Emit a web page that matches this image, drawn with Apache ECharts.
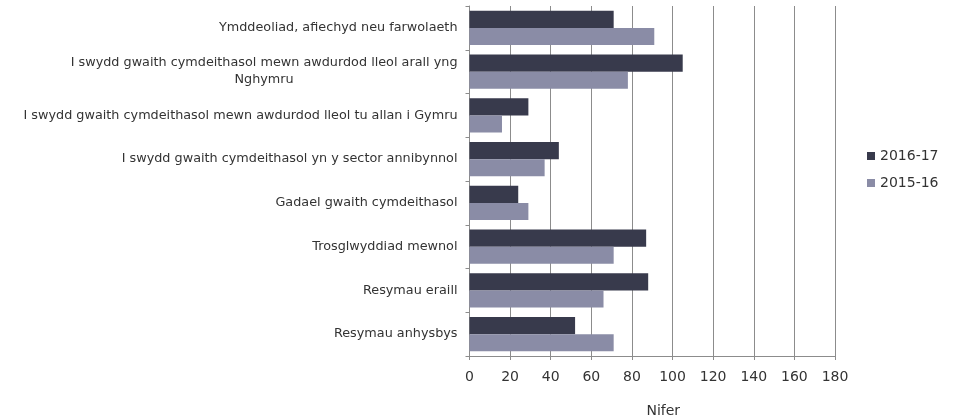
<!DOCTYPE html>
<html><head><meta charset="utf-8">
<script src="https://cdn.jsdelivr.net/npm/echarts@6/dist/echarts.min.js"></script>
<style>html,body{margin:0;padding:0;background:#fff}#c{width:960px;height:417px}</style>
</head><body><div id="c"></div>
<script>
var categories = [
  "Ymddeoliad, afiechyd neu farwolaeth",
  "I swydd gwaith cymdeithasol mewn awdurdod lleol arall yng\nNghymru",
  "I swydd gwaith cymdeithasol mewn awdurdod lleol tu allan i Gymru",
  "I swydd gwaith cymdeithasol yn y sector annibynnol",
  "Gadael gwaith cymdeithasol",
  "Trosglwyddiad mewnol",
  "Resymau eraill",
  "Resymau anhysbys"
];
var seriesNames = ["2016-17", "2015-16"];
var values2016 = [71, 105, 29, 44, 24, 87, 88, 52];
var values2015 = [91, 78, 16, 37, 29, 71, 66, 71];
var xTicks = {min: 0, max: 180, interval: 20};
var axisName = "Nifer";

var chart = echarts.init(document.getElementById('c'));
var font = 'DejaVu Sans, Verdana, sans-serif';
chart.setOption({
  animation: false,
  textStyle: {fontFamily: font},
  grid: {left: 469.5, right: 125, top: 6, bottom: 61, containLabel: false, outerBoundsMode: 'none'},
  legend: {
    orient: 'vertical', left: 867, top: 149, padding: 0, itemWidth: 8, itemHeight: 8, itemGap: 13,
    icon: 'rect',
    textStyle: {fontFamily: font, fontSize: 14, color: '#333'},
    data: seriesNames
  },
  xAxis: {
    type: 'value', min: xTicks.min, max: xTicks.max, interval: xTicks.interval,
    name: axisName, nameLocation: 'middle', nameGap: 48,
    nameTextStyle: {fontFamily: font, fontSize: 14, color: '#333', padding: [0, 0, 0, 22]},
    axisLine: {show: true, lineStyle: {color: '#8c8c8c', width: 1}},
    axisTick: {show: true, length: 4, lineStyle: {color: '#8c8c8c'}},
    axisLabel: {fontFamily: font, fontSize: 14, color: '#333', margin: 14},
    splitLine: {show: true, lineStyle: {color: '#8c8c8c', width: 1}}
  },
  yAxis: {
    type: 'category', data: categories, inverse: true,
    axisLine: {show: true, lineStyle: {color: '#8c8c8c', width: 1}},
    axisTick: {show: true, length: 4, lineStyle: {color: '#8c8c8c'}},
    axisLabel: {
      fontFamily: font, fontSize: 12.8, color: '#333', margin: 12,
      formatter: function (v) {
        return v.split('\n').map(function (s) { return '{a|' + s + '}'; }).join('\n');
      },
      rich: {a: {fontFamily: font, fontSize: 12.8, color: '#333', align: 'center', lineHeight: 17}}
    }
  },
  series: [
    {name: seriesNames[0], type: 'bar', data: values2016, barGap: '0%', barCategoryGap: '22%',
     itemStyle: {color: '#383a4c'}},
    {name: seriesNames[1], type: 'bar', data: values2015, barGap: '0%', barCategoryGap: '22%',
     itemStyle: {color: '#8a8ca6'}}
  ]
});
</script></body></html>
